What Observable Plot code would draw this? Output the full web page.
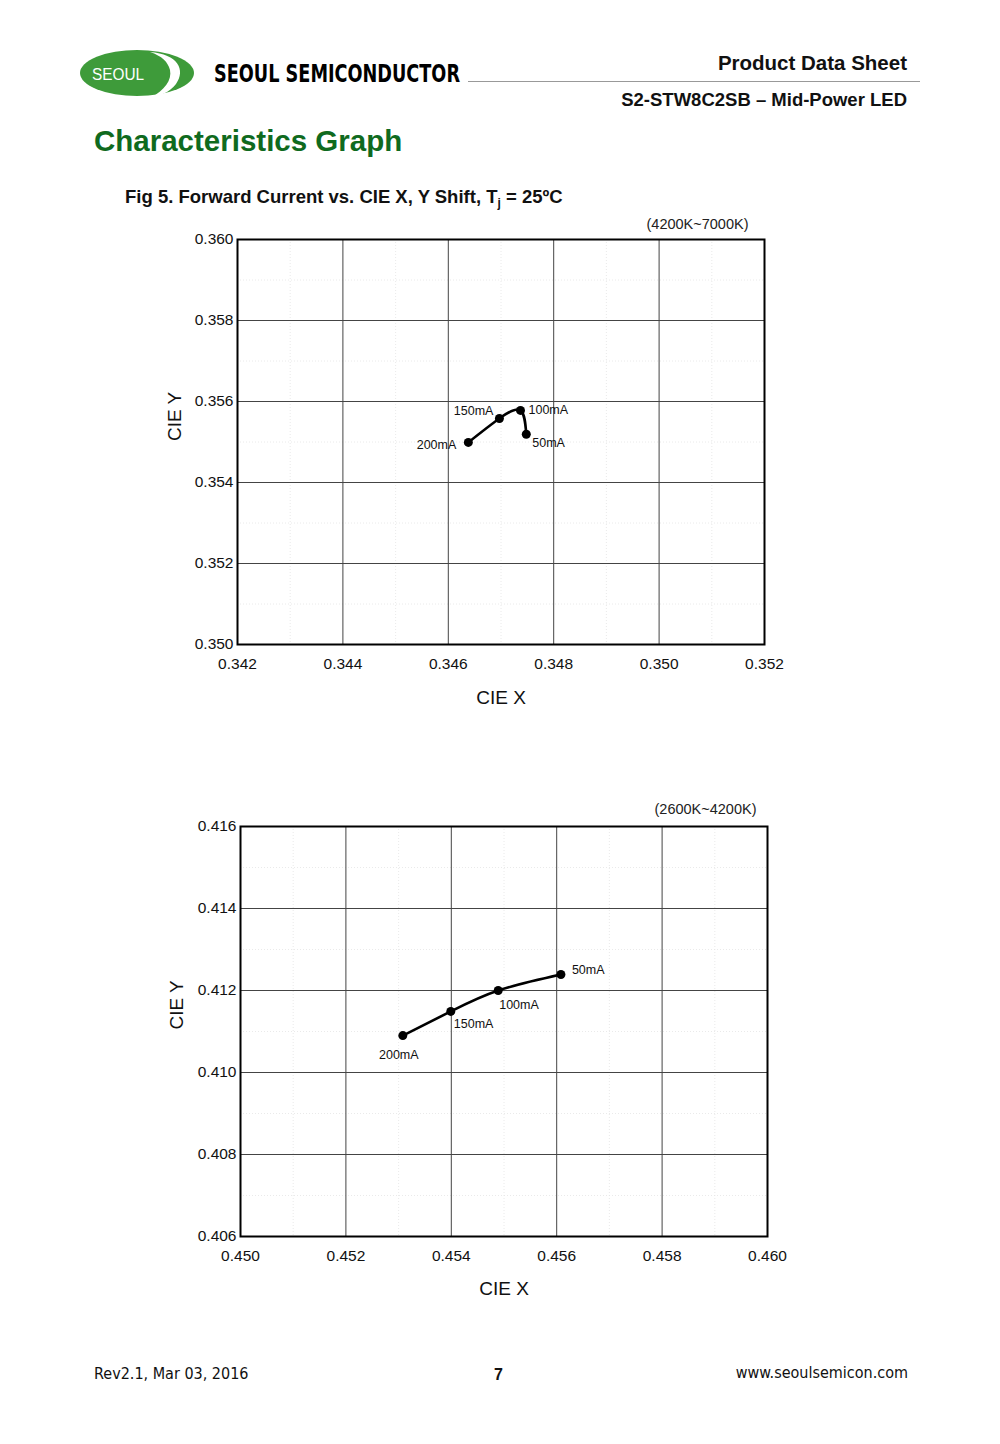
<!DOCTYPE html>
<html>
<head>
<meta charset="utf-8">
<script src="https://cdn.jsdelivr.net/npm/d3@7"></script>
<script src="https://cdn.jsdelivr.net/npm/@observablehq/plot@0.6"></script>
<style>
  html, body { margin: 0; padding: 0; background: #fff; }
  body { width: 1000px; height: 1444px; position: relative; overflow: hidden; font-family: "Liberation Sans", Arial, sans-serif; color: #111; }
  .abs { position: absolute; white-space: nowrap; }
  #chart1, #chart2 { position: absolute; }
</style>
</head>
<body>
<!-- Header -->
<svg class="abs" style="left:0;top:0" width="1000" height="120">
  <ellipse cx="137" cy="73" rx="57" ry="23" fill="#3e9b3a"/>
  <path d="M150,52 C178,54 186,70 176,84 C170,92 160,96 150,98 C165,90 172,80 170,70 C168,62 162,56 150,52 Z" fill="#fff"/>
  <text x="118" y="80" text-anchor="middle" fill="#fff" font-family="Liberation Sans, Arial" font-size="16" textLength="52" lengthAdjust="spacingAndGlyphs">SEOUL</text>
  <text x="214" y="82" fill="#000" font-family="DejaVu Sans Condensed, Liberation Sans Narrow" font-weight="bold" font-size="24" textLength="246" lengthAdjust="spacingAndGlyphs">SEOUL SEMICONDUCTOR</text>
  <line x1="468" y1="81.5" x2="920" y2="81.5" stroke="#999" stroke-width="1.2"/>
</svg>
<div class="abs" style="right:93px;top:51px;font-size:20.5px;font-weight:600;">Product Data Sheet</div>
<div class="abs" style="right:93px;top:89px;font-size:18.5px;font-weight:bold;">S2-STW8C2SB – Mid-Power LED</div>
<div class="abs" style="left:94px;top:124px;font-size:29.5px;font-weight:bold;color:#0f6a1e;">Characteristics Graph</div>
<div class="abs" style="left:125px;top:186px;font-size:18.5px;font-weight:bold;">Fig 5. Forward Current vs. CIE X, Y Shift, T<sub style="font-size:12px;vertical-align:-4px;">j</sub> = 25ºC</div>

<div id="chart1"></div>
<div id="chart2"></div>

<!-- Footer -->
<div class="abs" style="left:94px;top:1364px;font-size:16px;font-family:'Liberation Sans Narrow','DejaVu Sans Condensed',sans-serif;">Rev2.1, Mar 03, 2016</div>
<div class="abs" style="left:494px;top:1366px;font-size:16px;font-weight:bold;font-family:'Liberation Sans Narrow',sans-serif;">7</div>
<div class="abs" style="right:92px;top:1363px;font-size:16px;font-family:'Liberation Sans Narrow','DejaVu Sans Condensed',sans-serif;">www.seoulsemicon.com</div>

<script>
// ---------- Data ----------
const currents = ["200mA", "150mA", "100mA", "50mA"];

// Chart 1 (4200K~7000K)
const cool_x = [0.34638, 0.34697, 0.34737, 0.34748];
const cool_y = [0.35499, 0.35558, 0.35578, 0.35519];
const cool_xTicks = [0.342, 0.344, 0.346, 0.348, 0.350, 0.352];
const cool_yTicks = [0.350, 0.352, 0.354, 0.356, 0.358, 0.360];
const cool_range = "(4200K~7000K)";

// Chart 2 (2600K~4200K)
const warm_x = [0.45308, 0.45399, 0.45489, 0.45608];
const warm_y = [0.41090, 0.41149, 0.41200, 0.41239];
const warm_xTicks = [0.450, 0.452, 0.454, 0.456, 0.458, 0.460];
const warm_yTicks = [0.406, 0.408, 0.410, 0.412, 0.414, 0.416];
const warm_range = "(2600K~4200K)";

const xLabel = "CIE X";
const yLabel = "CIE Y";

// ---------- Drawing ----------
function build(xs, ys, xTicks, yTicks, rangeText, placement, opt) {
  const rows = currents.map((c, i) => ({current: c, x: xs[i], y: ys[i]}));
  const xMinor = d3.range(xTicks.length - 1).map(i => (xTicks[i] + xTicks[i + 1]) / 2);
  const yMinor = d3.range(yTicks.length - 1).map(i => (yTicks[i] + yTicks[i + 1]) / 2);
  const labelMarks = rows.map(r => {
    const p = placement[r.current];
    return Plot.text([r], {x: "x", y: "y", text: "current", textAnchor: p.anchor, dx: p.dx, dy: p.dy,
      fontSize: 12.5, fill: "#111", fontFamily: "Liberation Sans, Arial"});
  });
  return Plot.plot({
    width: 640, height: opt.height,
    marginLeft: 80, marginRight: 33, marginTop: 10, marginBottom: 70,
    style: {fontFamily: "Liberation Sans, Arial, sans-serif", background: "#fff", overflow: "visible"},
    x: {domain: [xTicks[0], xTicks[xTicks.length - 1]]},
    y: {domain: [yTicks[0], yTicks[yTicks.length - 1]]},
    marks: [
      Plot.ruleX(xMinor, {stroke: "#e4e4e4", strokeWidth: 0.8, strokeDasharray: "1,2"}),
      Plot.ruleY(yMinor, {stroke: "#e4e4e4", strokeWidth: 0.8, strokeDasharray: "1,2"}),
      Plot.ruleX(xTicks.slice(1, -1), {stroke: "#444", strokeWidth: 1}),
      Plot.ruleY(yTicks.slice(1, -1), {stroke: "#444", strokeWidth: 1}),
      Plot.frame({stroke: "#000", strokeWidth: 2}),
      Plot.axisX(xTicks, {tickSize: 0, tickPadding: 13, tickFormat: d3.format(".3f"), fontSize: 15.5, fill: "#111", label: null}),
      Plot.axisY(yTicks, {tickSize: 0, tickPadding: 4, tickFormat: d3.format(".3f"), fontSize: 15.5, fill: "#111", label: null}),
      Plot.text([xLabel], {frameAnchor: "bottom", dy: opt.xLabelDy, text: d => d, fontSize: 19, fill: "#111"}),
      Plot.text([yLabel], {frameAnchor: "left", dx: opt.yLabelDx, dy: opt.yLabelDy, rotate: -90, text: d => d, fontSize: 19, fill: "#111"}),
      Plot.line(rows, {x: "x", y: "y", curve: "natural", stroke: "#000", strokeWidth: 2.6}),
      Plot.dot(rows, {x: "x", y: "y", r: 4.5, fill: "#000"}),
      ...labelMarks,
      Plot.text([rangeText], {frameAnchor: "top-right", textAnchor: "end", dx: opt.rangeDx, dy: opt.rangeDy,
        fontSize: 14.5, fill: "#222", text: d => d})
    ]
  });
}

const place1 = {
  "200mA": {anchor: "end", dx: -12, dy: 3},
  "150mA": {anchor: "end", dx: -6, dy: -8},
  "100mA": {anchor: "start", dx: 8, dy: 0},
  "50mA":  {anchor: "start", dx: 6, dy: 9}
};
const place2 = {
  "200mA": {anchor: "middle", dx: -4, dy: 19},
  "150mA": {anchor: "start", dx: 3, dy: 13},
  "100mA": {anchor: "start", dx: 1, dy: 14},
  "50mA":  {anchor: "start", dx: 11, dy: -5}
};

const c1 = build(cool_x, cool_y, cool_xTicks, cool_yTicks, cool_range, place1,
  {height: 485, rangeDx: -16, rangeDy: -21, xLabelDy: 59, yLabelDx: -63, yLabelDy: -1});
const c2 = build(warm_x, warm_y, warm_xTicks, warm_yTicks, warm_range, place2,
  {height: 490, rangeDx: -11, rangeDy: -23, xLabelDy: 58, yLabelDx: -64, yLabelDy: -2});
const d1 = document.getElementById("chart1");
d1.style.left = "157px"; d1.style.top = "229px";
d1.appendChild(c1);
const d2 = document.getElementById("chart2");
d2.style.left = "160px"; d2.style.top = "816px";
d2.appendChild(c2);
</script>
</body>
</html>
